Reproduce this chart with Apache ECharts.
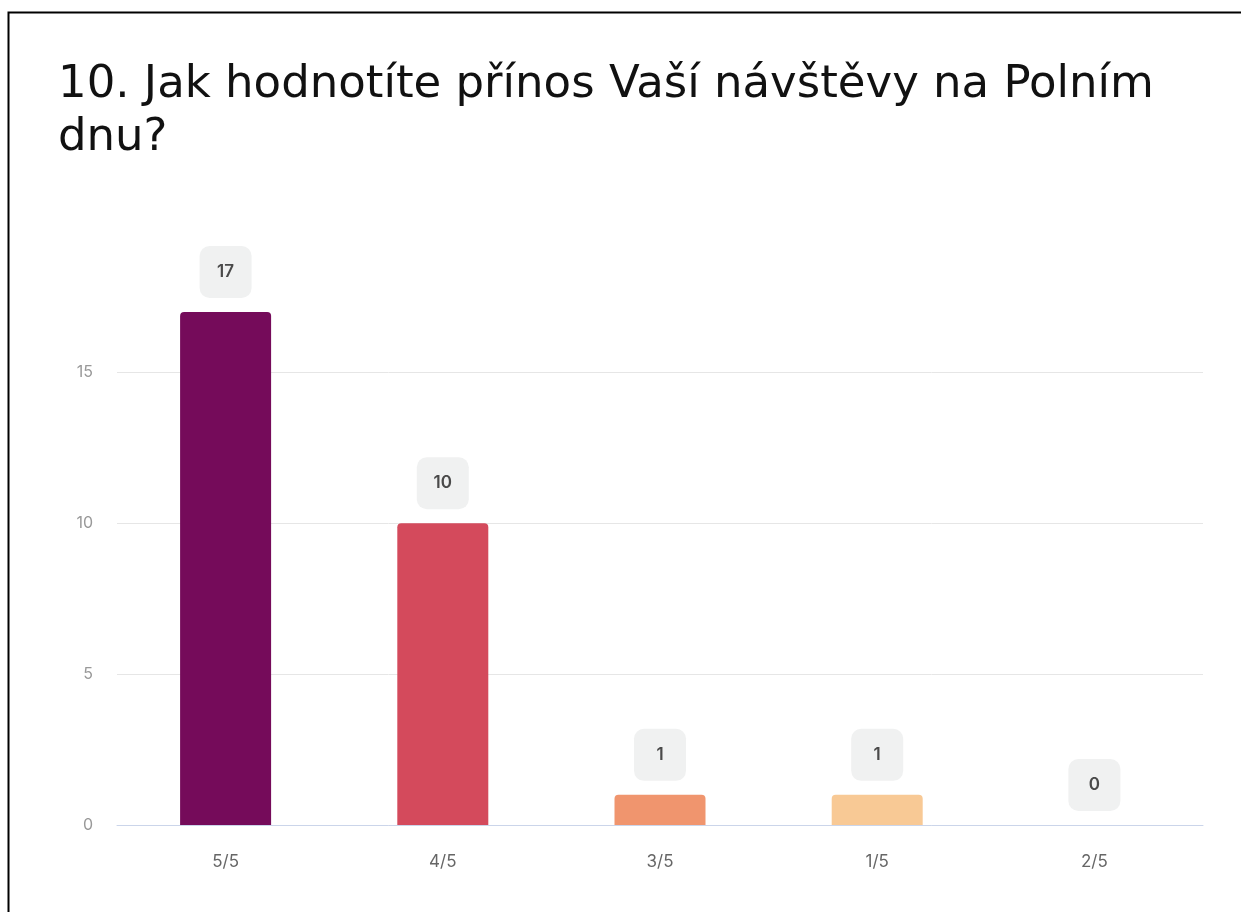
<!DOCTYPE html>
<html>
<head>
<meta charset="utf-8">
<script src="https://cdn.jsdelivr.net/npm/echarts@6/dist/echarts.min.js"></script>
<style>
  html, body { margin: 0; padding: 0; background: #fff; }
  #chart { width: 1241px; height: 912px; }
</style>
</head>
<body>
<div id="chart"></div>
<script>
// Survey answers: rating given and number of respondents
const categories = ['5/5', '4/5', '3/5', '1/5', '2/5'];
const counts = [17, 10, 1, 1, 0];
const barColors = ['#750B5A', '#D44A5C', '#F0956E', '#F8C995', '#F8C995'];
const yTicks = [0, 5, 10, 15];

const titleText = '10. Jak hodnotíte přínos Vaší návštěvy na Polním\ndnu?';

const chart = echarts.init(document.getElementById('chart'), null, { renderer: 'canvas' });

chart.setOption({
  backgroundColor: '#ffffff',
  animation: false,
  title: {
    text: titleText,
    left: 53,
    top: 54,
    textStyle: {
      fontFamily: 'DejaVu Sans',
      fontSize: 45,
      fontWeight: 'normal',
      color: '#111111',
      lineHeight: 53
    }
  },
  graphic: [{
    type: 'rect',
    silent: true,
    shape: { x: 8.5, y: 12.5, width: 1400, height: 1200 },
    style: { fill: 'none', stroke: '#000000', lineWidth: 2 }
  }],
  grid: { left: 117, right: 38, top: 312, bottom: 87, containLabel: false },
  xAxis: {
    type: 'category',
    data: categories,
    axisLine: { show: true, lineStyle: { color: '#CBD5EA', width: 1 } },
    axisTick: { show: false },
    axisLabel: { color: '#666666', fontSize: 17, margin: 28, fontFamily: 'Inter' }
  },
  yAxis: {
    type: 'value',
    min: yTicks[0],
    max: 17,
    interval: 5,
    axisLine: { show: false },
    axisTick: { show: false },
    axisLabel: {
      color: '#999999', fontSize: 16, margin: 24, fontFamily: 'Inter',
      showMaxLabel: false
    },
    splitLine: { show: true, showMaxLine: false, lineStyle: { color: '#E6E6E6', width: 1 } }
  },
  series: [{
    type: 'bar',
    data: counts.map((v, i) => ({ value: v, itemStyle: { color: barColors[i] } })),
    barWidth: 91,
    itemStyle: { borderRadius: [4, 4, 0, 0] },
    label: {
      show: true,
      position: 'top',
      distance: 14,
      width: 52,
      height: 52,
      lineHeight: 52,
      align: 'center',
      backgroundColor: '#F0F1F1',
      borderRadius: 10,
      color: '#4A4A4A',
      fontSize: 17,
      fontWeight: 600,
      fontFamily: 'Inter'
    }
  }]
});
</script>
</body>
</html>
